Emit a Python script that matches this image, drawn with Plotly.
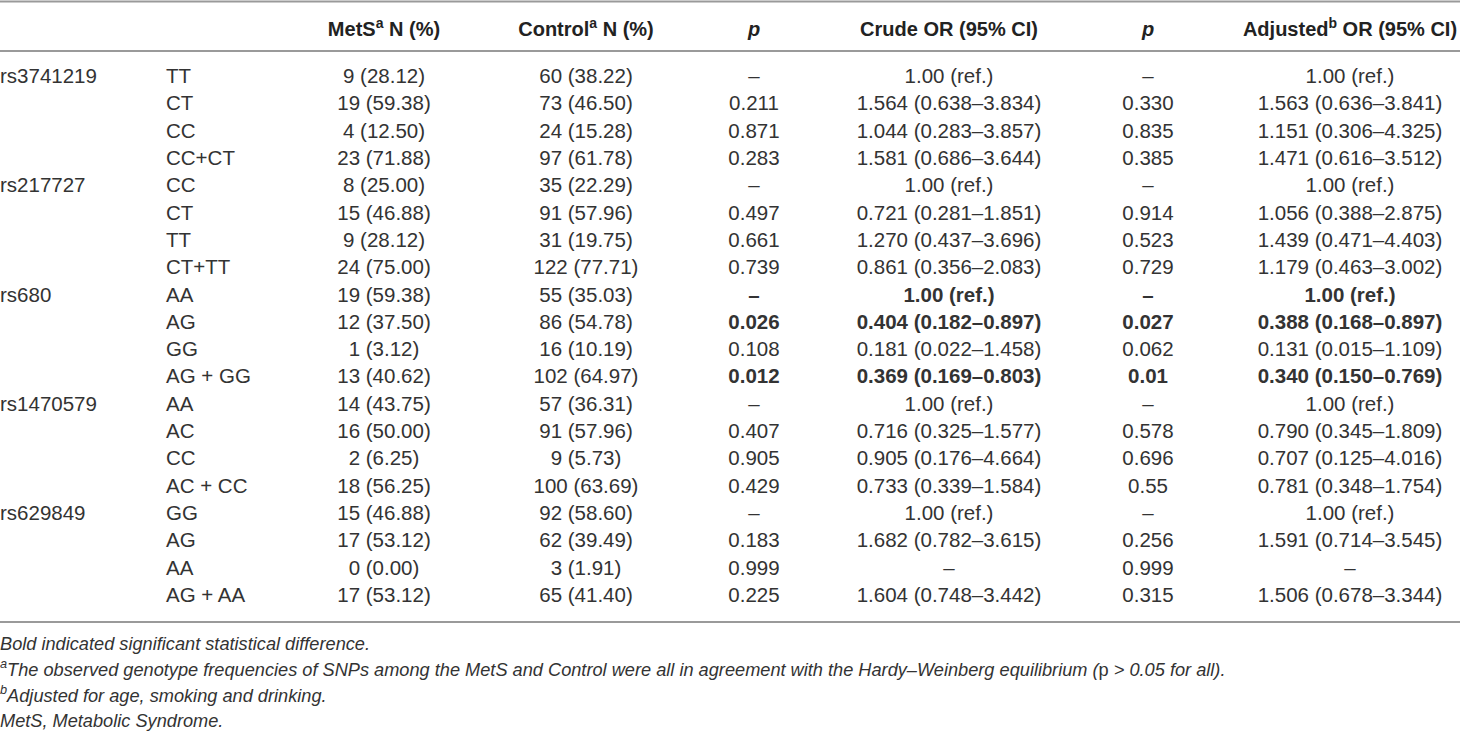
import plotly.graph_objects as go

# ---------------- data ----------------
headers = ["", "", "MetS<sup>a</sup> N (%)", "Control<sup>a</sup> N (%)", "<i>p</i>",
           "Crude OR (95% CI)", "<i>p</i>", "Adjusted<sup>b</sup> OR (95% CI)"]

snps = ["rs3741219", "", "", "", "rs217727", "", "", "", "rs680", "", "", "",
        "rs1470579", "", "", "", "rs629849", "", "", ""]

genotypes = ["TT", "CT", "CC", "CC+CT", "CC", "CT", "TT", "CT+TT",
             "AA", "AG", "GG", "AG + GG", "AA", "AC", "CC", "AC + CC",
             "GG", "AG", "AA", "AG + AA"]

mets = ["9 (28.12)", "19 (59.38)", "4 (12.50)", "23 (71.88)",
        "8 (25.00)", "15 (46.88)", "9 (28.12)", "24 (75.00)",
        "19 (59.38)", "12 (37.50)", "1 (3.12)", "13 (40.62)",
        "14 (43.75)", "16 (50.00)", "2 (6.25)", "18 (56.25)",
        "15 (46.88)", "17 (53.12)", "0 (0.00)", "17 (53.12)"]

control = ["60 (38.22)", "73 (46.50)", "24 (15.28)", "97 (61.78)",
           "35 (22.29)", "91 (57.96)", "31 (19.75)", "122 (77.71)",
           "55 (35.03)", "86 (54.78)", "16 (10.19)", "102 (64.97)",
           "57 (36.31)", "91 (57.96)", "9 (5.73)", "100 (63.69)",
           "92 (58.60)", "62 (39.49)", "3 (1.91)", "65 (41.40)"]

p_crude = ["–", "0.211", "0.871", "0.283",
           "–", "0.497", "0.661", "0.739",
           "–", "0.026", "0.108", "0.012",
           "–", "0.407", "0.905", "0.429",
           "–", "0.183", "0.999", "0.225"]

crude_or = ["1.00 (ref.)", "1.564 (0.638–3.834)", "1.044 (0.283–3.857)", "1.581 (0.686–3.644)",
            "1.00 (ref.)", "0.721 (0.281–1.851)", "1.270 (0.437–3.696)", "0.861 (0.356–2.083)",
            "1.00 (ref.)", "0.404 (0.182–0.897)", "0.181 (0.022–1.458)", "0.369 (0.169–0.803)",
            "1.00 (ref.)", "0.716 (0.325–1.577)", "0.905 (0.176–4.664)", "0.733 (0.339–1.584)",
            "1.00 (ref.)", "1.682 (0.782–3.615)", "–", "1.604 (0.748–3.442)"]

p_adj = ["–", "0.330", "0.835", "0.385",
         "–", "0.914", "0.523", "0.729",
         "–", "0.027", "0.062", "0.01",
         "–", "0.578", "0.696", "0.55",
         "–", "0.256", "0.999", "0.315"]

adj_or = ["1.00 (ref.)", "1.563 (0.636–3.841)", "1.151 (0.306–4.325)", "1.471 (0.616–3.512)",
          "1.00 (ref.)", "1.056 (0.388–2.875)", "1.439 (0.471–4.403)", "1.179 (0.463–3.002)",
          "1.00 (ref.)", "0.388 (0.168–0.897)", "0.131 (0.015–1.109)", "0.340 (0.150–0.769)",
          "1.00 (ref.)", "0.790 (0.345–1.809)", "0.707 (0.125–4.016)", "0.781 (0.348–1.754)",
          "1.00 (ref.)", "1.591 (0.714–3.545)", "–", "1.506 (0.678–3.344)"]

bold_rows = [8, 9, 11]

footnotes = [
    "<i>Bold indicated significant statistical difference.</i>",
    "<i><sup>a</sup>The observed genotype frequencies of SNPs among the MetS and Control were all in agreement with the Hardy–Weinberg equilibrium (</i>p<i> > 0.05 for all).</i>",
    "<i><sup>b</sup>Adjusted for age, smoking and drinking.</i>",
    "<i>MetS, Metabolic Syndrome.</i>",
]

# ---------------- layout constants ----------------
W, H = 1460, 731
FONT = "Liberation Sans, Arial, sans-serif"
TXT = "#333333"
HEAD_TXT = "#222222"
RULE = "#9a9a9a"
BODY = 20.5
HEAD = 20
FOOT = 18.2
header_y = 31
row_y0, row_dy = 78, 27.3
col_x = [0, 166, 384, 586, 754, 949, 1148, 1350]
col_align = ["left", "left", "center", "center", "center", "center", "center", "center"]
foot_y = [645, 671, 697, 722]

rows_y = [row_y0 + i * row_dy for i in range(len(genotypes))]

def emph(vals):
    return [f"<b>{v}</b>" if i in bold_rows else v for i, v in enumerate(vals)]

columns = [snps, genotypes, mets, control, emph(p_crude), emph(crude_or), emph(p_adj), emph(adj_or)]

fig = go.Figure()

for j, vals in enumerate(columns):
    pos = "middle right" if col_align[j] == "left" else "middle center"
    if headers[j]:
        fig.add_trace(go.Scatter(
            x=[col_x[j]], y=[header_y], mode="text",
            text=[f"<b>{headers[j]}</b>"],
            textposition=pos, textfont=dict(family=FONT, size=HEAD, color=HEAD_TXT),
            hoverinfo="skip", showlegend=False, cliponaxis=False))
    fig.add_trace(go.Scatter(
        x=[col_x[j]] * len(vals), y=rows_y, mode="text", text=vals,
        textposition=pos, textfont=dict(family=FONT, size=BODY, color=TXT),
        hoverinfo="skip", showlegend=False, cliponaxis=False))

fig.add_trace(go.Scatter(
    x=[0] * len(footnotes), y=foot_y, mode="text", text=footnotes,
    textposition="middle right", textfont=dict(family=FONT, size=FOOT, color=TXT),
    hoverinfo="skip", showlegend=False, cliponaxis=False))

for yy in [1.5, 51, 622]:
    fig.add_shape(type="line", x0=0, x1=W, y0=yy, y1=yy, xref="x", yref="y",
                  line=dict(color=RULE, width=2))

fig.update_layout(
    width=W, height=H, margin=dict(l=0, r=0, t=0, b=0),
    paper_bgcolor="white", plot_bgcolor="white",
    xaxis=dict(range=[0, W], visible=False, fixedrange=True),
    yaxis=dict(range=[H, 0], visible=False, fixedrange=True),
)

fig.write_html("out.html", config={"displayModeBar": False},
               post_script="document.body.style.margin='0';document.body.style.overflow='hidden';")
